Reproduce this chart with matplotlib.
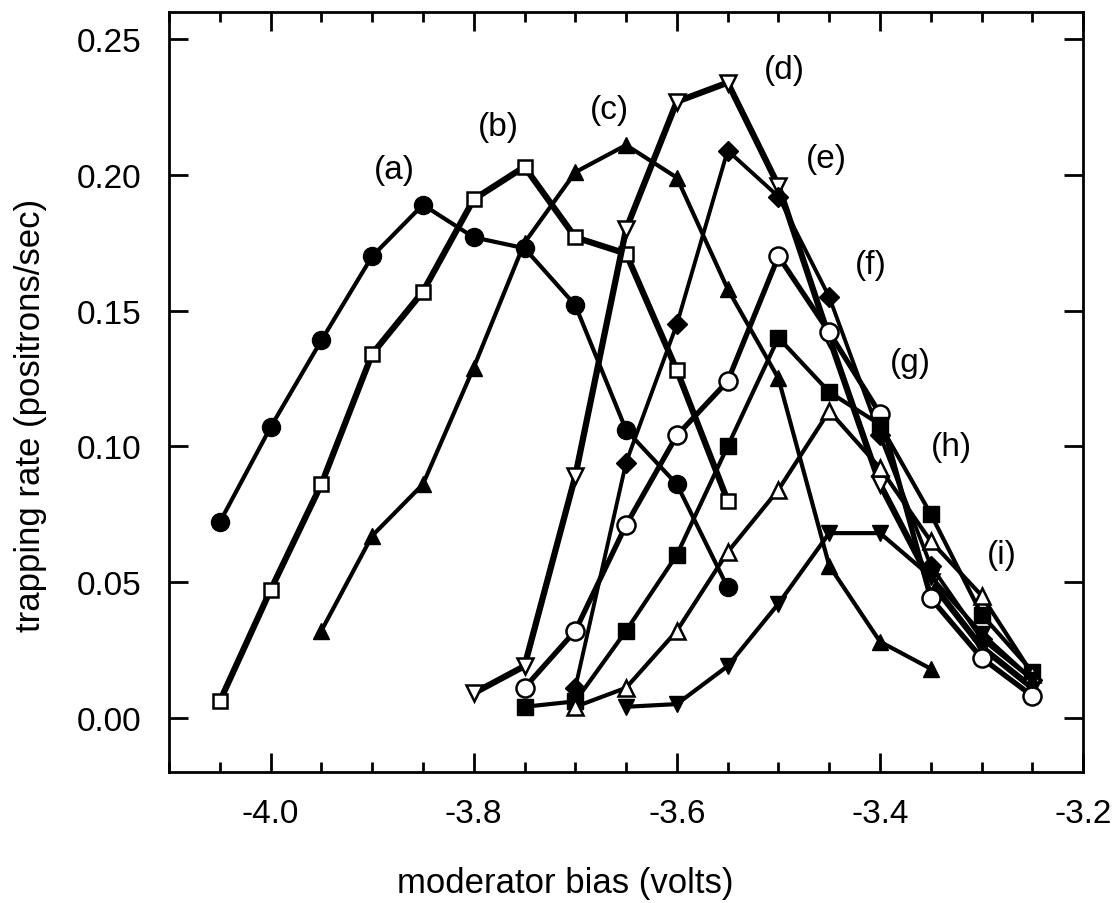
import numpy as np
import matplotlib.pyplot as plt
from matplotlib.ticker import MultipleLocator

plt.rcParams['font.family'] = ['Liberation Sans', 'DejaVu Sans']
plt.rcParams['axes.unicode_minus'] = False

# bias values (volts) and trapping rates for each run
x_a = [-4.05, -4.0, -3.95, -3.9, -3.85, -3.8, -3.75, -3.7, -3.65, -3.6, -3.55]
y_a = [0.072, 0.107, 0.139, 0.170, 0.189, 0.177, 0.173, 0.152, 0.106, 0.086, 0.048]

x_b = [-4.05, -4.0, -3.95, -3.9, -3.85, -3.8, -3.75, -3.7, -3.65, -3.6, -3.55]
y_b = [0.006, 0.047, 0.086, 0.134, 0.157, 0.191, 0.203, 0.177, 0.171, 0.128, 0.080]

x_c = [-3.95, -3.9, -3.85, -3.8, -3.75, -3.7, -3.65, -3.6, -3.55, -3.5, -3.45, -3.4, -3.35]
y_c = [0.032, 0.067, 0.086, 0.129, 0.175, 0.201, 0.211, 0.199, 0.158, 0.125, 0.056, 0.028, 0.018]

x_d = [-3.8, -3.75, -3.7, -3.65, -3.6, -3.55, -3.5, -3.45, -3.4, -3.35, -3.3, -3.25]
y_d = [0.009, 0.019, 0.089, 0.180, 0.227, 0.234, 0.196, 0.140, 0.086, 0.050, 0.026, 0.011]

x_e = [-3.7, -3.65, -3.6, -3.55, -3.5, -3.45, -3.4, -3.35, -3.3, -3.25]
y_e = [0.011, 0.094, 0.145, 0.209, 0.192, 0.155, 0.104, 0.056, 0.029, 0.014]

x_f = [-3.75, -3.7, -3.65, -3.6, -3.55, -3.5, -3.45, -3.4, -3.35, -3.3, -3.25]
y_f = [0.011, 0.032, 0.071, 0.104, 0.124, 0.170, 0.142, 0.112, 0.044, 0.022, 0.008]

x_g = [-3.75, -3.7, -3.65, -3.6, -3.55, -3.5, -3.45, -3.4, -3.35, -3.3, -3.25]
y_g = [0.004, 0.006, 0.032, 0.060, 0.100, 0.140, 0.120, 0.108, 0.075, 0.038, 0.017]

x_h = [-3.7, -3.65, -3.6, -3.55, -3.5, -3.45, -3.4, -3.35, -3.3, -3.25]
y_h = [0.004, 0.011, 0.032, 0.061, 0.084, 0.113, 0.092, 0.065, 0.045, 0.016]

x_i = [-3.65, -3.6, -3.55, -3.5, -3.45, -3.4, -3.35, -3.3, -3.25]
y_i = [0.004, 0.005, 0.019, 0.042, 0.068, 0.068, 0.052, 0.031, 0.014]

labels = ['(a)', '(b)', '(c)', '(d)', '(e)', '(f)', '(g)', '(h)', '(i)']
label_x = [-3.878, -3.776, -3.666, -3.494, -3.453, -3.409, -3.37, -3.33, -3.28]
label_y = [0.202, 0.218, 0.224, 0.239, 0.206, 0.167, 0.131, 0.100, 0.060]

fig = plt.figure(figsize=(11.19, 9.04), dpi=100)
ax = fig.add_axes([0.151, 0.145, 0.817, 0.8405])

k = dict(color='black', markeredgecolor='black')
ax.plot(x_a, y_a, '-o', lw=3, ms=13, **k)
ax.plot(x_b, y_b, '-s', lw=4.5, ms=10.5, mfc='white', mew=1.8, **k)
ax.plot(x_c, y_c, '-^', lw=3, ms=12, **k)
ax.plot(x_d, y_d, '-v', lw=4.5, ms=12, mfc='white', mew=1.8, **k)
ax.plot(x_e, y_e, '-D', lw=2.8, ms=10, **k)
ax.plot(x_f, y_f, '-o', lw=3.8, ms=13, mfc='white', mew=1.8, **k)
ax.plot(x_g, y_g, '-s', lw=3, ms=11, **k)
ax.plot(x_h, y_h, '-^', lw=3, ms=12, mfc='white', mew=1.8, **k)
ax.plot(x_i, y_i, '-v', lw=3, ms=12, **k)

for t, lx, ly in zip(labels, label_x, label_y):
    ax.text(lx, ly, t, fontsize=24, ha='center', va='center')

ax.set_xlim(-4.1, -3.2)
ax.set_ylim(-0.02, 0.26)
ax.xaxis.set_major_locator(MultipleLocator(0.2))
ax.xaxis.set_minor_locator(MultipleLocator(0.05))
ax.yaxis.set_major_locator(MultipleLocator(0.05))
ax.xaxis.set_major_formatter(plt.FormatStrFormatter('%.1f'))
ax.yaxis.set_major_formatter(plt.FormatStrFormatter('%.2f'))
ax.tick_params(which='both', direction='in', top=True, right=True, width=2)
ax.tick_params(which='major', length=14, labelsize=24)
ax.tick_params(axis='x', which='major', pad=19)
ax.tick_params(axis='y', which='major', pad=20)
ax.tick_params(which='minor', length=7)
for s in ax.spines.values():
    s.set_linewidth(2)

ax.set_xlabel('moderator bias (volts)', fontsize=25, va='center')
ax.xaxis.set_label_coords(0.433, -0.145)
ax.set_ylabel('trapping rate (positrons/sec)', fontsize=25, va='center')
ax.yaxis.set_label_coords(-0.152, 0.47)

fig.savefig('out.png', dpi=100)
